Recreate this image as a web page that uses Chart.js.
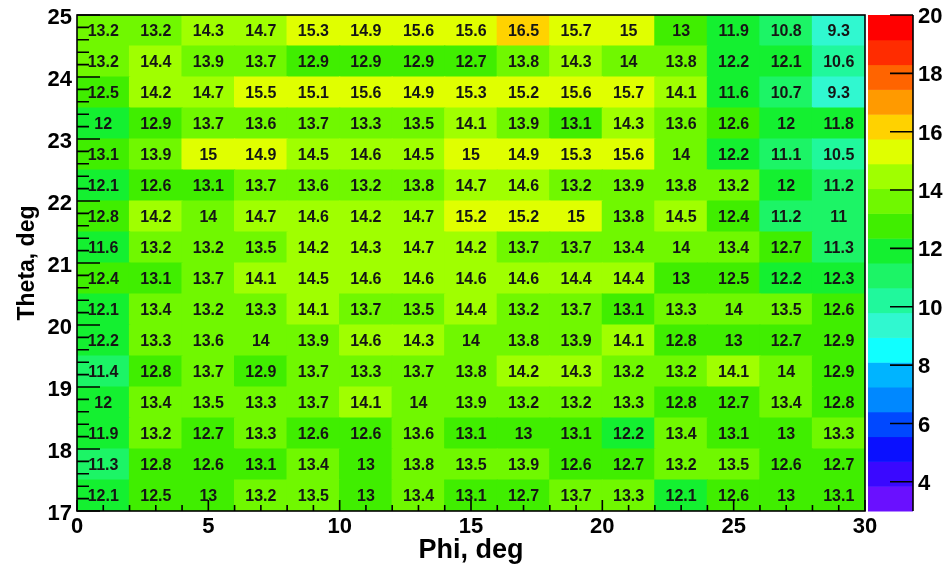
<!DOCTYPE html>
<html><head><meta charset="utf-8">
<script src="https://cdn.jsdelivr.net/npm/chart.js@4.4.1/dist/chart.umd.min.js"></script>
<style>html,body{margin:0;padding:0;background:#fff;}#wrap{width:952px;height:570px;position:relative;}</style>
</head><body><div id="wrap"><canvas id="c" width="952" height="570"></canvas></div>
<script>
// ---- data ----
const phiLow = [0,2,4,6,8,10,12,14,16,18,20,22,24,26,28];   // lower bin edges (deg)
const phiStep = 2;
const thetaLow = [24.5,24,23.5,23,22.5,22,21.5,21,20.5,20,19.5,19,18.5,18,17.5,17]; // top -> bottom
const thetaStep = 0.5;
const values = [
  [13.2,13.2,14.3,14.7,15.3,14.9,15.6,15.6,16.5,15.7,15,13,11.9,10.8,9.3],
  [13.2,14.4,13.9,13.7,12.9,12.9,12.9,12.7,13.8,14.3,14,13.8,12.2,12.1,10.6],
  [12.5,14.2,14.7,15.5,15.1,15.6,14.9,15.3,15.2,15.6,15.7,14.1,11.6,10.7,9.3],
  [12,12.9,13.7,13.6,13.7,13.3,13.5,14.1,13.9,13.1,14.3,13.6,12.6,12,11.8],
  [13.1,13.9,15,14.9,14.5,14.6,14.5,15,14.9,15.3,15.6,14,12.2,11.1,10.5],
  [12.1,12.6,13.1,13.7,13.6,13.2,13.8,14.7,14.6,13.2,13.9,13.8,13.2,12,11.2],
  [12.8,14.2,14,14.7,14.6,14.2,14.7,15.2,15.2,15,13.8,14.5,12.4,11.2,11],
  [11.6,13.2,13.2,13.5,14.2,14.3,14.7,14.2,13.7,13.7,13.4,14,13.4,12.7,11.3],
  [12.4,13.1,13.7,14.1,14.5,14.6,14.6,14.6,14.6,14.4,14.4,13,12.5,12.2,12.3],
  [12.1,13.4,13.2,13.3,14.1,13.7,13.5,14.4,13.2,13.7,13.1,13.3,14,13.5,12.6],
  [12.2,13.3,13.6,14,13.9,14.6,14.3,14,13.8,13.9,14.1,12.8,13,12.7,12.9],
  [11.4,12.8,13.7,12.9,13.7,13.3,13.7,13.8,14.2,14.3,13.2,13.2,14.1,14,12.9],
  [12,13.4,13.5,13.3,13.7,14.1,14,13.9,13.2,13.2,13.3,12.8,12.7,13.4,12.8],
  [11.9,13.2,12.7,13.3,12.6,12.6,13.6,13.1,13,13.1,12.2,13.4,13.1,13,13.3],
  [11.3,12.8,12.6,13.1,13.4,13,13.8,13.5,13.9,12.6,12.7,13.2,13.5,12.6,12.7],
  [12.1,12.5,13,13.2,13.5,13,13.4,13.1,12.7,13.7,13.3,12.1,12.6,13,13.1]
];
const xTicks = [0,5,10,15,20,25,30];
const yTicks = [17,18,19,20,21,22,23,24,25];
const zTicks = [4,6,8,10,12,14,16,18,20];
const zMin = 3, zMax = 20, nLevels = 20;
const palette = ['#6a10ff','#3a08ff','#0a10ff','#0048ff','#0088ff','#00b4ff','#10ffff','#30f8d0','#20f89c','#1cf466',
                 '#14f030','#40ee00','#70f800','#a0ff00','#e0ff00','#ffd200','#ff9a00','#ff6400','#ff2c00','#ff0000'];

// ---- build ----
const FONT = 'Liberation Sans, Arial, Helvetica, sans-serif';
const cells = [];
thetaLow.forEach((t, r) => phiLow.forEach((p, c) => cells.push({x: p + phiStep / 2, y: [t, t + thetaStep], v: values[r][c]})));
function levelIndex(v) {
  let i = Math.floor((v - zMin) / ((zMax - zMin) / nLevels) + 1e-6);
  return Math.max(0, Math.min(nLevels - 1, i));
}
function colorFor(v) { return palette[levelIndex(v)]; }
function noPad(s) { s.paddingTop = 0; s.paddingBottom = 0; s.paddingLeft = 0; s.paddingRight = 0; }

const heatPlugin = {
  id: 'heatExtras',
  afterDatasetsDraw(chart) {
    const {ctx, chartArea: a, scales} = chart;
    const xs = scales.x, ys = scales.y, zs = scales.z;
    // cell labels
    const meta = chart.getDatasetMeta(0);
    ctx.save();
    ctx.font = 'bold 16px ' + FONT;
    ctx.fillStyle = '#151515';
    ctx.textAlign = 'center';
    ctx.textBaseline = 'middle';
    meta.data.forEach((el, i) => {
      const d = cells[i];
      const cx = xs.getPixelForValue(d.x);
      const cy = ys.getPixelForValue((d.y[0] + d.y[1]) / 2);
      ctx.fillText(String(d.v), cx, cy + 1);
    });
    ctx.restore();

    // frame + ticks
    ctx.save();
    ctx.strokeStyle = '#000';
    ctx.lineWidth = 1.6;
    ctx.strokeRect(a.left, a.top, a.right - a.left, a.bottom - a.top);
    ctx.beginPath();
    for (let v = xs.min; v <= xs.max + 1e-9; v += 1) {
      const px = xs.getPixelForValue(v);
      const len = (Math.abs(v % 5) < 1e-9) ? 11 : 6;
      ctx.moveTo(px, a.bottom); ctx.lineTo(px, a.bottom - len);
    }
    for (let k = 0; k <= (ys.max - ys.min) * 5 + 1e-6; k++) {
      const v = ys.min + k * 0.2;
      const py = ys.getPixelForValue(v);
      const len = (k % 5 === 0) ? 23 : 12;
      ctx.moveTo(a.left, py); ctx.lineTo(a.left + len, py);
    }
    ctx.stroke();

    // colour bar
    const bx0 = a.right + 3, bx1 = a.right + 48;
    const step = (zMax - zMin) / nLevels;
    for (let i = 0; i < nLevels; i++) {
      const y0 = zs.getPixelForValue(zMin + i * step);
      const y1 = zs.getPixelForValue(zMin + (i + 1) * step);
      ctx.fillStyle = palette[i];
      ctx.fillRect(bx0, y1, bx1 - bx0, y0 - y1 + 0.5);
    }
    ctx.lineWidth = 1.6;
    ctx.beginPath();
    ctx.moveTo(bx1, zs.getPixelForValue(zMax)); ctx.lineTo(bx1, zs.getPixelForValue(zMin));
    zTicks.forEach(v => {
      const py = zs.getPixelForValue(v);
      ctx.moveTo(bx1, py); ctx.lineTo(bx1 - 23, py);
    });
    ctx.stroke();
    ctx.restore();
  }
};

new Chart(document.getElementById('c'), {
  type: 'bar',
  data: {datasets: [{
    data: cells,
    backgroundColor: c => colorFor(c.raw.v),
    borderWidth: 0,
    barPercentage: 1,
    categoryPercentage: 1,
    inflateAmount: 0.6
  }]},
  options: {
    responsive: false,
    animation: false,
    devicePixelRatio: 1,
    layout: {padding: {top: 15, left: 0, right: 0, bottom: 0}},
    plugins: {legend: {display: false}, tooltip: {enabled: false}},
    scales: {
      x: {
        type: 'linear', position: 'bottom', min: 0, max: 30, offset: false,
        grid: {display: false, drawTicks: false, offset: false}, border: {display: false},
        afterBuildTicks: s => { s.ticks = xTicks.map(v => ({value: v})); },
        ticks: {font: {family: FONT, weight: 'bold', size: 22}, color: '#000', padding: 3, maxRotation: 0, autoSkip: false},
        title: {display: true, text: 'Phi, deg', color: '#000', font: {family: FONT, weight: 'bold', size: 27}, padding: {top: 0, bottom: 3}},
        afterFit: s => { s.height = 59; noPad(s); }
      },
      y: {
        type: 'linear', position: 'left', min: 17, max: 25,
        grid: {display: false, drawTicks: false}, border: {display: false},
        afterBuildTicks: s => { s.ticks = yTicks.map(v => ({value: v})); },
        ticks: {font: {family: FONT, weight: 'bold', size: 22}, color: '#000', padding: 5, labelOffset: 3, autoSkip: false},
        title: {display: true, text: 'Theta, deg', color: '#000', font: {family: FONT, weight: 'bold', size: 23}, padding: {top: 14, bottom: 0}},
        afterFit: s => { s.width = 77; noPad(s); }
      },
      z: {
        type: 'linear', position: 'right', min: zMin, max: zMax,
        grid: {display: false, drawTicks: true, tickLength: 48}, border: {display: false},
        afterBuildTicks: s => { s.ticks = zTicks.map(v => ({value: v})); },
        ticks: {font: {family: FONT, weight: 'bold', size: 22}, color: '#000', padding: 5, labelOffset: 2, autoSkip: false},
        afterFit: s => { s.width = 87; noPad(s); }
      }
    }
  },
  plugins: [heatPlugin]
});
</script>
</body></html>
